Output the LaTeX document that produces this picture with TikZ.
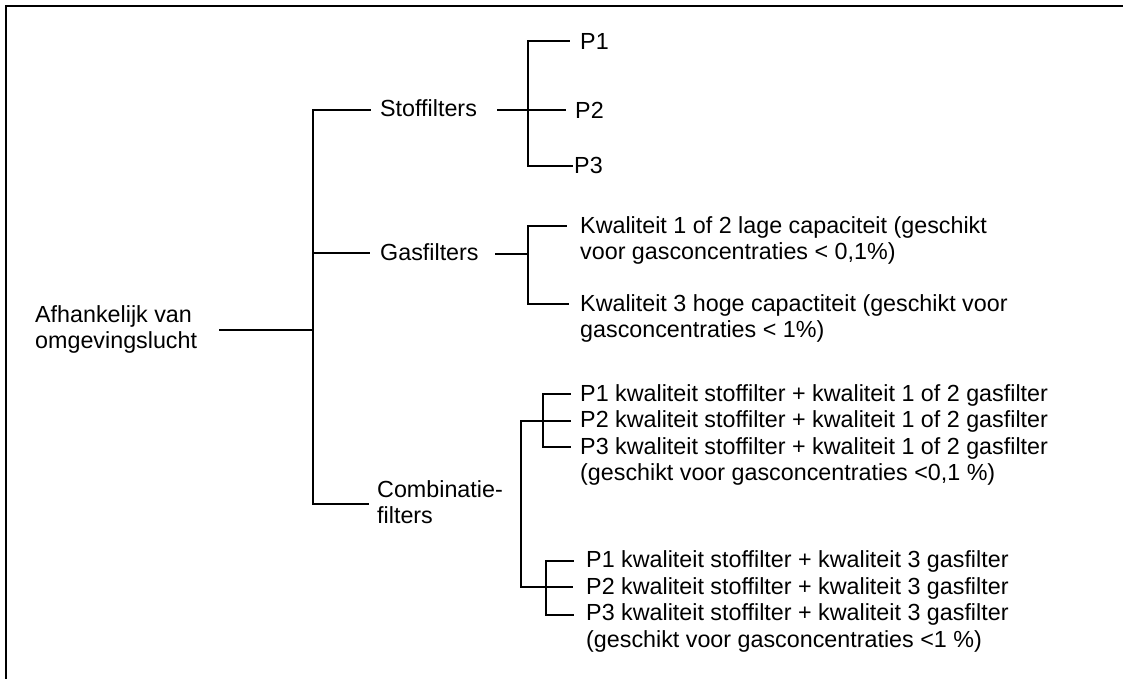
\documentclass[tikz,border=0pt]{standalone}
\usepackage{fontspec}
\setmainfont{Liberation Sans}[Ligatures=CommonOff]
\usetikzlibrary{calc}
\newcommand\twolines[1]{\begin{tabular}[t]{@{}l@{}}#1\end{tabular}}
\begin{document}
\begin{tikzpicture}[x=1pt,y=-1pt,
  lbl/.style={anchor=base west,inner sep=0pt,font=\fontsize{23.3}{26.5}\selectfont},
  conn/.style={line width=1.4pt,line cap=rect},
  frame/.style={line width=2.3pt}]
\useasboundingbox (0,0) rectangle (1123,678);
\draw[frame] (5.7,682) -- (5.7,5.7) -- (1127,5.7);

% labels
\node[lbl] (root) at (35,322) {\twolines{Afhankelijk van\\omgevingslucht}};
\node[lbl] (stof) at (380,116) {Stoffilters};
\node[lbl] (gas) at (380,260) {Gasfilters};
\node[lbl] (comb) at (377,497) {\twolines{Combinatie-\\filters}};
\node[lbl] (p1) at (580,49) {P1};
\node[lbl] (p2) at (575,118) {P2};
\node[lbl] (p3) at (574,173) {P3};
\node[lbl] (k12) at (580,233) {\twolines{Kwaliteit 1 of 2 lage capaciteit (geschikt\\voor gasconcentraties < 0,1\%)}};
\node[lbl] (k3) at (580,311) {\twolines{Kwaliteit 3 hoge capactiteit (geschikt voor\\gasconcentraties < 1\%)}};
\node[lbl] (a1) at (580,401) {P1 kwaliteit stoffilter + kwaliteit 1 of 2 gasfilter};
\node[lbl] (a2) at (580,427.5) {P2 kwaliteit stoffilter + kwaliteit 1 of 2 gasfilter};
\node[lbl] (a3) at (580,454) {\twolines{P3 kwaliteit stoffilter + kwaliteit 1 of 2 gasfilter\\(geschikt voor gasconcentraties <0,1 \%)}};
\node[lbl] (b1) at (586,567.5) {P1 kwaliteit stoffilter + kwaliteit 3 gasfilter};
\node[lbl] (b2) at (586,594) {P2 kwaliteit stoffilter + kwaliteit 3 gasfilter};
\node[lbl] (b3) at (586,620.5) {\twolines{P3 kwaliteit stoffilter + kwaliteit 3 gasfilter\\(geschikt voor gasconcentraties <1 \%)}};

% junctions
\coordinate (rj) at (313,330);
\coordinate (t1) at (313,110);
\coordinate (t2) at (313,253);
\coordinate (t3) at (313,504);
\coordinate (s1) at (528,41);
\coordinate (s2) at (528,110);
\coordinate (s3) at (528,166);
\coordinate (g1) at (528,226);
\coordinate (g2) at (528,254);
\coordinate (g3) at (528,304);
\coordinate (c1) at (521,421);
\coordinate (c2) at (521,587);
\coordinate (u1) at (543,394);
\coordinate (u3) at (543,447);
\coordinate (l1) at (546,561);
\coordinate (l3) at (546,615);

% root level
\draw[conn] (220,330) -- (rj);
\draw[conn] (t1) -- (t3);
\draw[conn] (t1) -- ($(stof.base west)+(-10,-6)$);
\draw[conn] (t2) -- ($(gas.base west)+(-11,-7)$);
\draw[conn] (t3) -- ($(comb.base west)+(-9,7)$);

% Stoffilters
\draw[conn] ($(stof.base east)+(21,-6)$) -- ($(p2.base west)+(-10,-8)$);
\draw[conn] (s1) -- (s3);
\draw[conn] (s1) -- ($(p1.base west)+(-11,-8)$);
\draw[conn] (s3) -- ($(p3.base west)+(-2,-7)$);

% Gasfilters
\draw[conn] ($(gas.base east)+(17,-6)$) -- (g2);
\draw[conn] (g1) -- (g3);
\draw[conn] (g1) -- ($(k12.base west)+(-14,-7)$);
\draw[conn] (g3) -- ($(k3.base west)+(-12,-7)$);

% Combinatiefilters
\draw[conn] (c1) -- (c2);
\draw[conn] (c1) -- ($(a2.base west)+(-10,-6.5)$);
\draw[conn] (u1) -- (u3);
\draw[conn] (u1) -- ($(a1.base west)+(-10,-7)$);
\draw[conn] (u3) -- ($(a3.base west)+(-10,-7)$);
\draw[conn] (c2) -- ($(b2.base west)+(-14,-7)$);
\draw[conn] (l1) -- (l3);
\draw[conn] (l1) -- ($(b1.base west)+(-13,-6.5)$);
\draw[conn] (l3) -- ($(b3.base west)+(-13,-5.5)$);
\end{tikzpicture}
\end{document}
